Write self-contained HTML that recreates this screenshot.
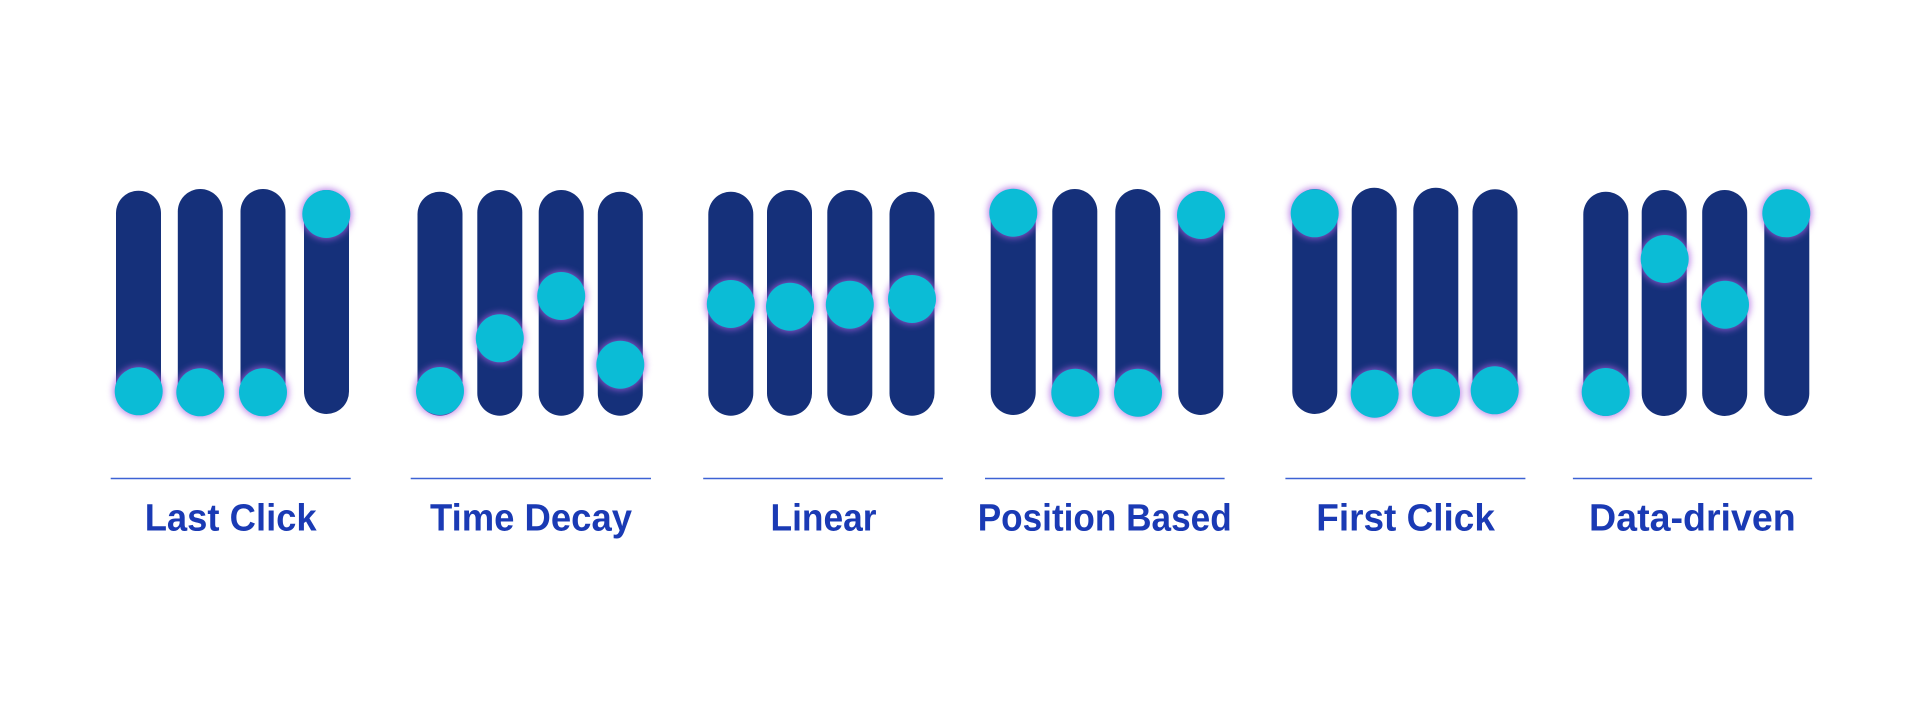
<!DOCTYPE html>
<html>
<head>
<meta charset="utf-8">
<style>
  html,body{margin:0;padding:0;background:#ffffff;}
  body{width:1921px;height:701px;overflow:hidden;}
  svg{display:block;}
  text{font-family:"Liberation Sans",Arial,sans-serif;font-weight:bold;font-size:38px;fill:#1a3ab4;}
</style>
</head>
<body>
<svg width="1921" height="701" viewBox="0 0 1921 701" xmlns="http://www.w3.org/2000/svg">
  <defs>
    <filter id="glow" x="-50%" y="-50%" width="200%" height="200%">
      <feGaussianBlur stdDeviation="3.5"/>
    </filter>
  </defs>
  <rect width="1921" height="701" fill="#ffffff"/>

  <g fill="#15307a">
    <!-- Last Click -->
    <rect x="116" y="190.7" width="45" height="223.3" rx="22.5"/>
    <rect x="177.8" y="189" width="45" height="225" rx="22.5"/>
    <rect x="240.5" y="189" width="45" height="225" rx="22.5"/>
    <rect x="304" y="190" width="45" height="224" rx="22.5"/>
    <!-- Time Decay -->
    <rect x="417.5" y="191.7" width="45" height="224" rx="22.5"/>
    <rect x="477.3" y="190" width="45" height="225.7" rx="22.5"/>
    <rect x="538.7" y="190" width="45" height="225.7" rx="22.5"/>
    <rect x="597.8" y="191.7" width="45" height="224" rx="22.5"/>
    <!-- Linear -->
    <rect x="708.3" y="191.7" width="45" height="224" rx="22.5"/>
    <rect x="767" y="190" width="45" height="225.7" rx="22.5"/>
    <rect x="827.3" y="190" width="45" height="225.7" rx="22.5"/>
    <rect x="889.5" y="191.7" width="45" height="224" rx="22.5"/>
    <!-- Position Based -->
    <rect x="990.7" y="190" width="45" height="225" rx="22.5"/>
    <rect x="1052.3" y="189" width="45" height="226" rx="22.5"/>
    <rect x="1115.3" y="189" width="45" height="226" rx="22.5"/>
    <rect x="1178.3" y="191" width="45" height="224" rx="22.5"/>
    <!-- First Click -->
    <rect x="1292.3" y="189" width="45" height="225" rx="22.5"/>
    <rect x="1351.7" y="187.7" width="45" height="226.3" rx="22.5"/>
    <rect x="1413.3" y="187.7" width="45" height="226.3" rx="22.5"/>
    <rect x="1472.5" y="189.3" width="45" height="224.7" rx="22.5"/>
    <!-- Data-driven -->
    <rect x="1583.3" y="191.7" width="45" height="224.3" rx="22.5"/>
    <rect x="1641.7" y="190" width="45" height="226" rx="22.5"/>
    <rect x="1702.2" y="190" width="45" height="226" rx="22.5"/>
    <rect x="1764.3" y="190" width="45" height="226" rx="22.5"/>
  </g>

  <!-- glows -->
  <g fill="#a860e0" opacity="0.75" filter="url(#glow)">
    <circle cx="138.7" cy="391.3" r="25.5"/>
    <circle cx="200.3" cy="392.3" r="25.5"/>
    <circle cx="263" cy="392.3" r="25.5"/>
    <circle cx="326.3" cy="214" r="25.5"/>

    <circle cx="440" cy="391" r="25.5"/>
    <circle cx="499.8" cy="338.3" r="25.5"/>
    <circle cx="561.2" cy="296" r="25.5"/>
    <circle cx="620.3" cy="364.7" r="25.5"/>

    <circle cx="730.8" cy="304" r="25.5"/>
    <circle cx="790" cy="306.7" r="25.5"/>
    <circle cx="849.8" cy="304.7" r="25.5"/>
    <circle cx="912" cy="299" r="25.5"/>

    <circle cx="1013.3" cy="212.7" r="25.5"/>
    <circle cx="1075.3" cy="392.7" r="25.5"/>
    <circle cx="1138" cy="392.7" r="25.5"/>
    <circle cx="1201" cy="215" r="25.5"/>

    <circle cx="1314.7" cy="213.3" r="25.5"/>
    <circle cx="1374.7" cy="393.7" r="25.5"/>
    <circle cx="1436" cy="392.7" r="25.5"/>
    <circle cx="1494.7" cy="390.3" r="25.5"/>

    <circle cx="1605.7" cy="392" r="25.5"/>
    <circle cx="1664.7" cy="259" r="25.5"/>
    <circle cx="1725" cy="304.7" r="25.5"/>
    <circle cx="1786.3" cy="213.3" r="25.5"/>
  </g>

  <!-- dots -->
  <g fill="#0bbcd6">
    <circle cx="138.7" cy="391.3" r="24"/>
    <circle cx="200.3" cy="392.3" r="24"/>
    <circle cx="263" cy="392.3" r="24"/>
    <circle cx="326.3" cy="214" r="24"/>

    <circle cx="440" cy="391" r="24"/>
    <circle cx="499.8" cy="338.3" r="24"/>
    <circle cx="561.2" cy="296" r="24"/>
    <circle cx="620.3" cy="364.7" r="24"/>

    <circle cx="730.8" cy="304" r="24"/>
    <circle cx="790" cy="306.7" r="24"/>
    <circle cx="849.8" cy="304.7" r="24"/>
    <circle cx="912" cy="299" r="24"/>

    <circle cx="1013.3" cy="212.7" r="24"/>
    <circle cx="1075.3" cy="392.7" r="24"/>
    <circle cx="1138" cy="392.7" r="24"/>
    <circle cx="1201" cy="215" r="24"/>

    <circle cx="1314.7" cy="213.3" r="24"/>
    <circle cx="1374.7" cy="393.7" r="24"/>
    <circle cx="1436" cy="392.7" r="24"/>
    <circle cx="1494.7" cy="390.3" r="24"/>

    <circle cx="1605.7" cy="392" r="24"/>
    <circle cx="1664.7" cy="259" r="24"/>
    <circle cx="1725" cy="304.7" r="24"/>
    <circle cx="1786.3" cy="213.3" r="24"/>
  </g>

  <!-- divider lines -->
  <g stroke="#3d62d4" stroke-width="1.6">
    <line x1="110.7" y1="478.5" x2="350.7" y2="478.5"/>
    <line x1="410.7" y1="478.5" x2="651" y2="478.5"/>
    <line x1="703.2" y1="478.5" x2="942.9" y2="478.5"/>
    <line x1="985" y1="478.5" x2="1224.6" y2="478.5"/>
    <line x1="1285.4" y1="478.5" x2="1525.4" y2="478.5"/>
    <line x1="1572.9" y1="478.5" x2="1812.1" y2="478.5"/>
  </g>

  <!-- labels -->
  <text x="230.7" y="530.5" text-anchor="middle" textLength="172" lengthAdjust="spacingAndGlyphs">Last Click</text>
  <text x="531" y="530.5" text-anchor="middle" textLength="202" lengthAdjust="spacingAndGlyphs">Time Decay</text>
  <text x="823.5" y="530.5" text-anchor="middle" textLength="106" lengthAdjust="spacingAndGlyphs">Linear</text>
  <text x="1104.7" y="530.5" text-anchor="middle" textLength="254" lengthAdjust="spacingAndGlyphs">Position Based</text>
  <text x="1405.6" y="530.5" text-anchor="middle" textLength="178.6" lengthAdjust="spacingAndGlyphs">First Click</text>
  <text x="1692.4" y="530.5" text-anchor="middle" textLength="206.7" lengthAdjust="spacingAndGlyphs">Data-driven</text>
</svg>
</body>
</html>
